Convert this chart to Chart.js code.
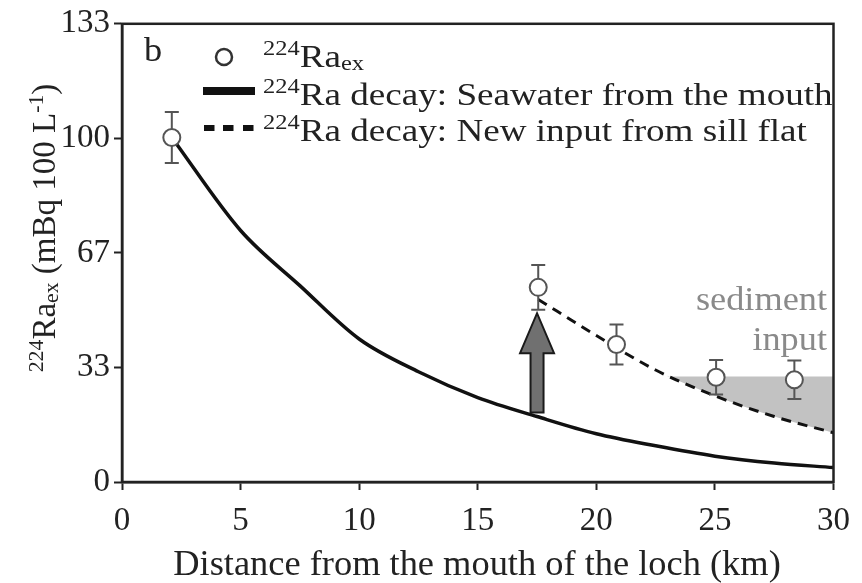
<!DOCTYPE html>
<html>
<head>
<meta charset="utf-8">
<script src="https://cdn.jsdelivr.net/npm/chart.js@4.4.1/dist/chart.umd.min.js"></script>
<style>
  html, body { margin: 0; padding: 0; background: #fff; }
</style>
</head>
<body>
<canvas id="myChart" width="862" height="583"></canvas>
<script>
// measured 224Ra_ex along the loch (km, mBq 100 L-1, +/- error)
const obsKm = [2.1, 17.55, 20.85, 25.05, 28.35];
const obsRa = [100, 56.5, 39.9, 30.4, 29.7];
const obsErr = [7.4, 6.5, 5.8, 5.0, 5.6];

// decay of seawater coming in from the mouth
const mouthKm = [2.1, 5, 7.5, 10, 12.5, 15, 17.5, 20, 22.5, 25, 27.5, 30];
const mouthRa = [100, 73, 57, 41.5, 32, 24.5, 19, 14, 10.5, 7.5, 5.5, 4.2];

// decay of the new input from the sill flat
const sillKm = [17.55, 20, 22.5, 25, 27.5, 30];
const sillRa = [53, 42.5, 32.5, 25, 19, 14.3];

// grey "sediment input" band (top edge), filled down to the dashed curve
const sedKm = [23, 30];
const sedRa = [30.6, 30.6];

// arrow at the sill
const arrowKm = 17.5;
const arrowFrom = 20.2;
const arrowTo = 49;

const xTicks = [0, 5, 10, 15, 20, 25, 30];
const yTickLabels = ['0', '33', '67', '100', '133'];
const yMax = 133;

const legendLabels = [
  [['224', 'sup'], ['Ra', ''], ['ex', 'sub']],
  [['224', 'sup'], ['Ra decay: Seawater from the mouth', '']],
  [['224', 'sup'], ['Ra decay: New input from sill flat', '']]
];
const yTitle = [['224', 'sup'], ['Ra', ''], ['ex', 'sub'], [' (mBq 100 L', ''], ['-1', 'sup'], [')', '']];
const xTitle = 'Distance from the mouth of the loch (km)';
const panelLetter = 'b';
const noteLines = ['sediment', 'input'];

const SERIF = '"Liberation Serif", "Times New Roman", serif';
const INK = '#222';

function pts(xs, ys) {
  return xs.map((x, i) => ({ x: x, y: ys[i] }));
}

// draws text with superscript / subscript parts, sx = horizontal stretch; returns width
function richText(ctx, parts, x, y, size, sx, measureOnly) {
  let cx = 0;
  ctx.save();
  ctx.translate(x, y);
  ctx.scale(sx, 1);
  parts.forEach(([t, kind]) => {
    let fs = size, dy = 0;
    if (kind === 'sup') { fs = size * 0.66; dy = -size * 0.36; }
    if (kind === 'sub') { fs = size * 0.66; dy = size * 0.1; }
    ctx.font = fs + 'px ' + SERIF;
    if (!measureOnly) ctx.fillText(t, cx, dy);
    cx += ctx.measureText(t).width;
  });
  ctx.restore();
  return cx * sx;
}

const extras = {
  id: 'extras',
  beforeDatasetDraw(chart, args) {
    if (args.index !== 0) return;
    // error bars under the circles
    const ctx = chart.ctx;
    const ys = chart.scales.y;
    const meta = chart.getDatasetMeta(0);
    ctx.save();
    ctx.strokeStyle = '#555';
    ctx.lineWidth = 2;
    meta.data.forEach((p, i) => {
      const top = ys.getPixelForValue(obsRa[i] + obsErr[i]);
      const bot = ys.getPixelForValue(obsRa[i] - obsErr[i]);
      ctx.beginPath();
      ctx.moveTo(p.x, top); ctx.lineTo(p.x, bot);
      ctx.moveTo(p.x - 7, top); ctx.lineTo(p.x + 7, top);
      ctx.moveTo(p.x - 7, bot); ctx.lineTo(p.x + 7, bot);
      ctx.stroke();
    });
    ctx.restore();
  },
  afterDatasetsDraw(chart) {
    const ctx = chart.ctx;
    const { left, right, top, bottom } = chart.chartArea;
    const xs = chart.scales.x, ys = chart.scales.y;

    // arrow
    const ax = xs.getPixelForValue(arrowKm);
    const ay0 = ys.getPixelForValue(arrowFrom);
    const ay1 = ys.getPixelForValue(arrowTo);
    const headH = 40, headW = 17, shaftW = 6.5;
    ctx.save();
    ctx.beginPath();
    ctx.moveTo(ax - shaftW, ay0);
    ctx.lineTo(ax - shaftW, ay1 + headH);
    ctx.lineTo(ax - headW, ay1 + headH);
    ctx.lineTo(ax, ay1);
    ctx.lineTo(ax + headW, ay1 + headH);
    ctx.lineTo(ax + shaftW, ay1 + headH);
    ctx.lineTo(ax + shaftW, ay0);
    ctx.closePath();
    ctx.fillStyle = '#707070';
    ctx.fill();
    ctx.strokeStyle = '#1a1a1a';
    ctx.lineWidth = 2;
    ctx.stroke();

    // frame
    ctx.strokeStyle = INK;
    ctx.lineWidth = 2.5;
    ctx.strokeRect(left, top, right - left, bottom - top);
    ctx.restore();
  },
  afterDraw(chart) {
    const ctx = chart.ctx;
    ctx.save();
    ctx.fillStyle = INK;
    ctx.textBaseline = 'alphabetic';
    ctx.textAlign = 'left';

    // panel letter
    richText(ctx, [[panelLetter, '']], 144, 61, 33, 1.1);

    // legend symbols
    ctx.strokeStyle = '#333';
    ctx.lineWidth = 2.5;
    ctx.beginPath();
    ctx.arc(224, 57, 8, 0, Math.PI * 2);
    ctx.stroke();
    ctx.fillStyle = '#111';
    ctx.fillRect(203, 87, 52, 8);
    [204, 223, 243].forEach(x => ctx.fillRect(x, 125, 10.5, 6));

    // legend texts
    ctx.fillStyle = INK;
    const rowY = [67, 105, 141];
    legendLabels.forEach((parts, i) => richText(ctx, parts, 263, rowY[i], 32, 1.16));

    // y title (rotated)
    ctx.save();
    ctx.translate(55, 228);
    ctx.rotate(-Math.PI / 2);
    const w = richText(ctx, yTitle, 0, 0, 33, 1, true);
    richText(ctx, yTitle, -w / 2, 0, 33, 1);
    ctx.restore();

    // x title
    const xw = richText(ctx, [[xTitle, '']], 0, 0, 35, 1.04, true);
    richText(ctx, [[xTitle, '']], 477 - xw / 2, 575, 35, 1.04);

    // sediment input note
    ctx.fillStyle = '#8a8a8a';
    noteLines.forEach((t, i) => {
      const tw = richText(ctx, [[t, '']], 0, 0, 33, 1.1, true);
      richText(ctx, [[t, '']], 827 - tw, 310 + i * 40, 33, 1.1);
    });
    ctx.restore();
  }
};

const chart = new Chart(document.getElementById('myChart'), {
  type: 'scatter',
  data: {
    datasets: [
      {
        label: 'obs',
        data: pts(obsKm, obsRa),
        showLine: false,
        pointRadius: 8.5,
        pointBorderWidth: 2,
        pointBorderColor: '#555',
        pointBackgroundColor: '#fff',
        order: 0
      },
      {
        label: 'mouth',
        data: pts(mouthKm, mouthRa),
        showLine: true,
        borderColor: '#111',
        borderWidth: 3.5,
        pointRadius: 0,
        cubicInterpolationMode: 'monotone',
        order: 2
      },
      {
        label: 'sill',
        data: pts(sillKm, sillRa),
        showLine: true,
        borderColor: '#111',
        borderWidth: 3,
        borderDash: [10, 7],
        pointRadius: 0,
        cubicInterpolationMode: 'monotone',
        order: 1
      },
      {
        label: 'sediment',
        data: pts(sedKm, sedRa),
        showLine: true,
        borderWidth: 0,
        borderColor: 'rgba(0,0,0,0)',
        backgroundColor: '#c2c2c2',
        pointRadius: 0,
        fill: 2,
        order: 5
      }
    ]
  },
  options: {
    responsive: false,
    animation: false,
    events: [],
    layout: { padding: { left: 0, right: 24, top: 22, bottom: 0 } },
    plugins: {
      legend: { display: false },
      tooltip: { enabled: false },
      filler: { propagate: false }
    },
    scales: {
      x: {
        type: 'linear',
        min: 0,
        max: 30,
        afterFit: (s) => { s.height = 101; },
        afterBuildTicks: (s) => { s.ticks = xTicks.map(v => ({ value: v })); },
        grid: { drawOnChartArea: false, drawTicks: true, tickLength: 8, tickColor: INK, tickWidth: 2 },
        border: { display: true, color: INK, width: 2.5 },
        ticks: { color: INK, padding: 12, font: { family: SERIF, size: 33 } }
      },
      y: {
        type: 'linear',
        min: 0,
        max: yMax,
        afterFit: (s) => { s.width = 122; },
        afterBuildTicks: (s) => {
          s.ticks = yTickLabels.map((t, i) => ({ value: i * yMax / (yTickLabels.length - 1) }));
        },
        grid: { drawOnChartArea: false, drawTicks: true, tickLength: 8, tickColor: INK, tickWidth: 2 },
        border: { display: true, color: INK, width: 2.5 },
        ticks: {
          color: INK,
          padding: 4,
          font: { family: SERIF, size: 33 },
          callback: (v, i) => yTickLabels[i]
        }
      }
    }
  },
  plugins: [extras]
});
</script>
</body>
</html>
